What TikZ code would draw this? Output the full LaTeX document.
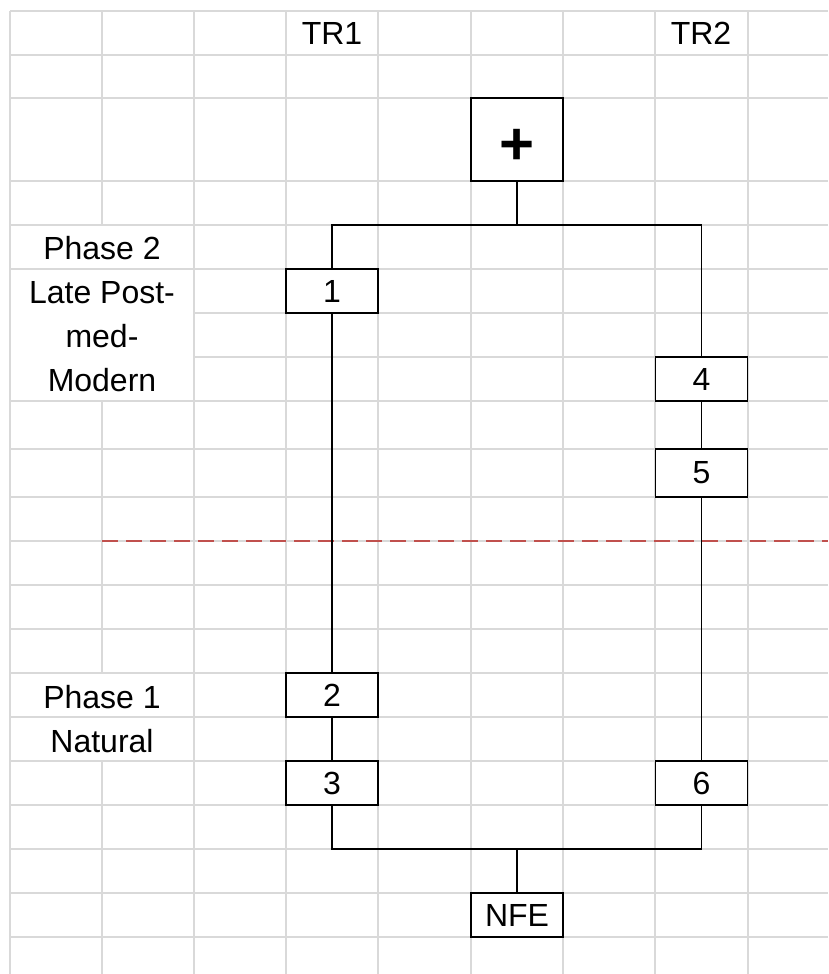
\documentclass[tikz,border=0pt]{standalone}
\usepackage{fontspec}
\setmainfont{Liberation Sans}
\definecolor{gridgray}{RGB}{217,217,217}
\definecolor{phasered}{RGB}{192,80,77}
\begin{document}
\begin{tikzpicture}[x=1pt,y=-1pt,
  gridline/.style={draw=gridgray,line width=1.3pt},
  box/.style={draw=black,fill=white,line width=1.8pt,minimum width=92pt,minimum height=44pt,inner sep=0pt,font=\fontsize{32}{38}\selectfont},
  lbl/.style={anchor=base,inner sep=0pt,font=\fontsize{32}{38}\selectfont},
  conn/.style={draw=black,line width=1.8pt},
  phaseline/.style={draw=phasered,line width=1.5pt,dash pattern=on 16pt off 8pt}]
\useasboundingbox[fill=white] (0,0) rectangle (828,974);
% grid
\foreach \x in {10,194,286,378,471,563,655,748} \draw[gridline] (\x,11) -- (\x,974);
\draw[gridline] (102,11) -- (102,225);
\draw[gridline] (102,401) -- (102,673);
\draw[gridline] (102,761) -- (102,974);
\foreach \y in {11,55,98,181,225,269,401,449,497,541,585,629,673,717,761,805,849,893,937}
  \draw[gridline] (10,\y) -- (828,\y);
\draw[gridline] (194,313) -- (828,313);
\draw[gridline] (194,357) -- (828,357);
% phase divider
\draw[phaseline] (102,541) -- (828,541);
% headers and labels
\node[lbl] (tr1) at (332,45) {TR1};
\node[lbl] (tr2) at (701,45) {TR2};
\node[lbl] (ph2) at (102,259) {Phase 2};
\node[lbl] (ph2a) at (102,303) {Late Post-};
\node[lbl] (ph2b) at (102,347.5) {med-};
\node[lbl] (ph2c) at (102,391.5) {Modern};
\node[lbl] (ph1) at (102,708) {Phase 1};
\node[lbl] (ph1a) at (102,752) {Natural};
% boxes
\node[box,minimum height=83pt,font=\fontsize{60}{60}\selectfont\bfseries] (plus) at (517,139.5) {\raisebox{-25pt}[0pt][0pt]{+}};
\node[box] (b1) at (332,291) {1};
\node[box] (b4) at (701.5,379) {4};
\node[box,minimum height=48pt] (b5) at (701.5,473) {5};
\node[box] (b2) at (332,695) {2};
\node[box] (b3) at (332,783) {3};
\node[box] (b6) at (701.5,783) {6};
\node[box] (nfe) at (517,915) {NFE};
% connectors
\coordinate (top) at (517,225);
\coordinate (bot) at (517,849);
\draw[conn] (plus.south) -- (top);
\draw[conn] (b1.north) |- (top) -| (b4.north);
\draw[conn] (b1.south) -- (b2.north);
\draw[conn] (b2.south) -- (b3.north);
\draw[conn] (b4.south) -- (b5.north);
\draw[conn] (b5.south) -- (b6.north);
\draw[conn] (b3.south) |- (bot) -| (b6.south);
\draw[conn] (bot) -- (nfe.north);
\end{tikzpicture}
\end{document}
